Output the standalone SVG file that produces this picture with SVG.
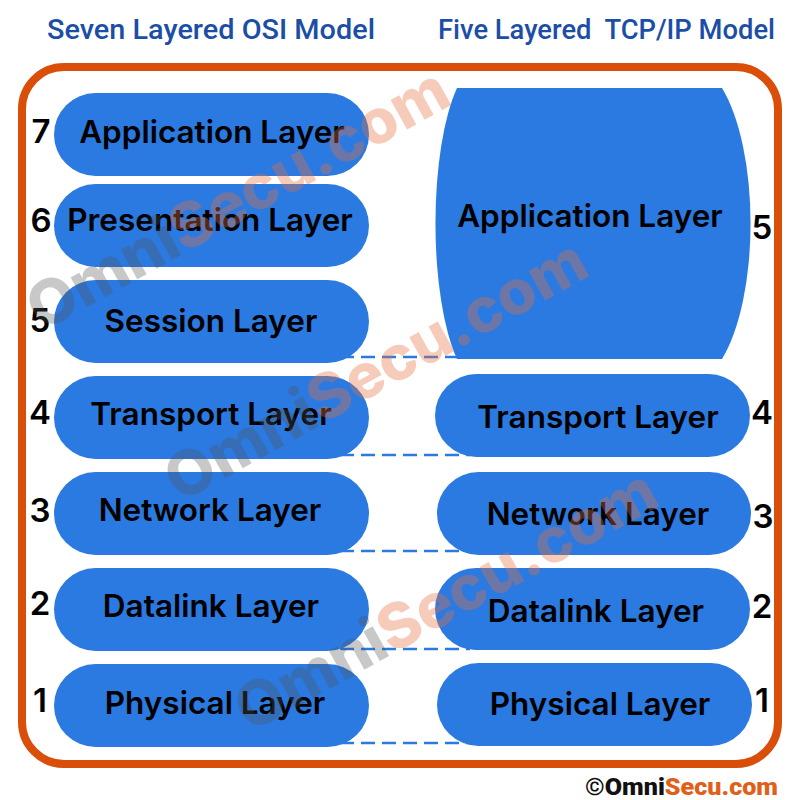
<svg xmlns="http://www.w3.org/2000/svg" width="800" height="800" viewBox="0 0 800 800">
<style>
.pill{fill:#2a7ae2}
.lbl{font-family:Inter,"Noto Sans",sans-serif;font-weight:600;font-size:31.5px;fill:#000;text-anchor:middle}
.num{font-family:Inter,"Noto Sans",sans-serif;font-weight:600;font-size:33px;fill:#000;text-anchor:middle}
.title{font-family:Roboto,"Noto Sans",sans-serif;font-weight:500;font-size:27px;fill:#1b4ea6}
.dash{stroke:#2a7ae2;stroke-width:2.5;stroke-dasharray:14 7;fill:none}
.wm{font-family:Inter,"Noto Sans",sans-serif;font-weight:800;font-size:62px}
.wg{fill:#555;fill-opacity:0.32}
.wo{fill:#e8703c;fill-opacity:0.36}
</style>
<rect width="800" height="800" fill="#fff"/>
<g id="titles">
<text class="title" x="47" y="39" textLength="328" lengthAdjust="spacingAndGlyphs">Seven Layered OSI Model</text>
<text class="title" x="438" y="39" textLength="337" lengthAdjust="spacingAndGlyphs" xml:space="preserve">Five Layered  TCP/IP Model</text>
</g>
<g id="frame">
<rect x="22" y="67" width="756" height="697" rx="42" fill="none" stroke="#d94e08" stroke-width="8"/>
</g>
<g id="connectors">
<line class="dash" x1="340" y1="357" x2="470" y2="357"/>
<line class="dash" x1="340" y1="455" x2="470" y2="455"/>
<line class="dash" x1="340" y1="551" x2="470" y2="551"/>
<line class="dash" x1="340" y1="649" x2="470" y2="649"/>
<line class="dash" x1="340" y1="743" x2="470" y2="743"/>
</g>
<g id="osi-7">
<rect class="pill" x="54" y="93" width="315" height="83" rx="41.5"/>
<text class="lbl" x="212" y="143">Application Layer</text>
<text class="num" x="41" y="143">7</text>
</g>
<g id="osi-6">
<rect class="pill" x="54" y="184" width="315" height="83" rx="41.5"/>
<text class="lbl" x="210" y="231">Presentation Layer</text>
<text class="num" x="41" y="232">6</text>
</g>
<g id="osi-5">
<rect class="pill" x="54" y="280" width="315" height="83" rx="41.5"/>
<text class="lbl" x="211" y="332">Session Layer</text>
<text class="num" x="40" y="332">5</text>
</g>
<g id="osi-4">
<rect class="pill" x="54" y="376" width="315" height="83" rx="41.5"/>
<text class="lbl" x="211" y="425">Transport Layer</text>
<text class="num" x="40" y="424">4</text>
</g>
<g id="osi-3">
<rect class="pill" x="54" y="472" width="315" height="83" rx="41.5"/>
<text class="lbl" x="210" y="521">Network Layer</text>
<text class="num" x="40" y="522">3</text>
</g>
<g id="osi-2">
<rect class="pill" x="54" y="568" width="315" height="83" rx="41.5"/>
<text class="lbl" x="211" y="617">Datalink Layer</text>
<text class="num" x="40" y="615">2</text>
</g>
<g id="osi-1">
<rect class="pill" x="54" y="664" width="315" height="83" rx="41.5"/>
<text class="lbl" x="215" y="714">Physical Layer</text>
<text class="num" x="40" y="712">1</text>
</g>
<g id="tcp-5">
<path class="pill" d="M457,88 L722,88 A61 160 0 0 1 722,359 L457,359 A46 160 0 0 1 457,88 Z"/>
<text class="lbl" x="590" y="227">Application Layer</text>
<text class="num" x="762" y="239">5</text>
</g>
<g id="tcp-4">
<rect class="pill" x="435" y="374" width="315" height="83" rx="41.5"/>
<text class="lbl" x="598" y="428">Transport Layer</text>
<text class="num" x="762" y="424">4</text>
</g>
<g id="tcp-3">
<rect class="pill" x="437" y="472" width="314" height="83" rx="41.5"/>
<text class="lbl" x="598" y="525">Network Layer</text>
<text class="num" x="763" y="528">3</text>
</g>
<g id="tcp-2">
<rect class="pill" x="435" y="568" width="315" height="82" rx="41"/>
<text class="lbl" x="596" y="622">Datalink Layer</text>
<text class="num" x="762" y="618">2</text>
</g>
<g id="tcp-1">
<rect class="pill" x="437" y="663" width="315" height="83" rx="41.5"/>
<text class="lbl" x="600" y="715">Physical Layer</text>
<text class="num" x="762" y="712">1</text>
</g>
<g id="watermarks">
<text class="wm" transform="translate(42,332) rotate(-29)"><tspan class="wg">Omni</tspan><tspan class="wo">Secu.com</tspan></text>
<text class="wm" transform="translate(180,503) rotate(-29)"><tspan class="wg">Omni</tspan><tspan class="wo">Secu.com</tspan></text>
<text class="wm" transform="translate(250,733) rotate(-29)"><tspan class="wg">Omni</tspan><tspan class="wo">Secu.com</tspan></text>
</g>
<g id="copyright">
<text x="585" y="795" textLength="193" lengthAdjust="spacingAndGlyphs" style="font-family:Roboto,'Noto Sans',sans-serif;font-weight:900;font-size:24px"><tspan fill="#111">©Omni</tspan><tspan fill="#e0601a">Secu.com</tspan></text>
</g>
</svg>
